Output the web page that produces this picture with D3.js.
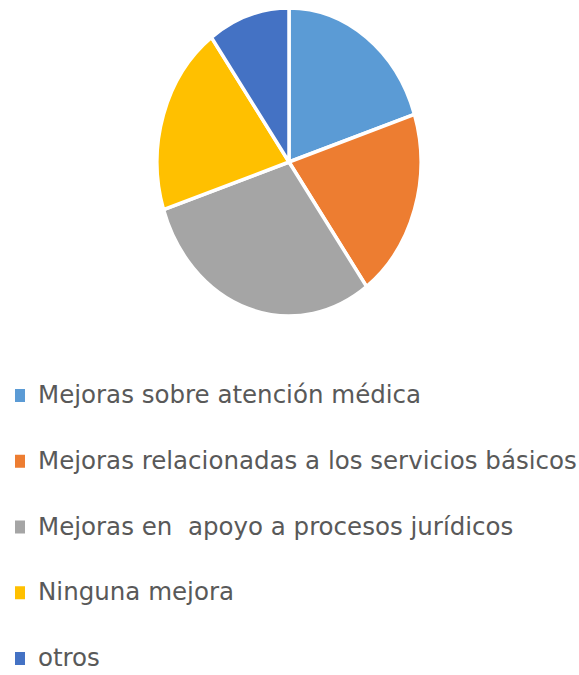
<!DOCTYPE html>
<html>
<head>
<meta charset="utf-8">
<script src="https://cdn.jsdelivr.net/npm/d3@7"></script>
<style>
  html, body { margin: 0; padding: 0; background: #fff; }
  svg { display: block; }
  .legend-label { font-family: "DejaVu Sans Condensed", "Liberation Sans", sans-serif; fill: #595959; }
</style>
</head>
<body>
<svg id="chart" width="579" height="675"></svg>
<script>
const categories = [
  'Mejoras sobre atención médica',
  'Mejoras relacionadas a los servicios básicos',
  'Mejoras en  apoyo a procesos jurídicos',
  'Ninguna mejora',
  'otros'
];
const values = [20, 20, 30, 20, 10];
const colors = ['#5B9BD5', '#ED7D31', '#A5A5A5', '#FFC000', '#4472C4'];

const svg = d3.select('#chart');
const width = 579, height = 675;

// pie is drawn stretched vertically like the original picture
const cx = 289, cy = 162, radius = 132, stretch = 154 / 132;

const data = categories.map((c, i) => ({ name: c, value: values[i] }));

const pie = d3.pie().sort(null).value(d => d.value);
const arc = d3.arc().innerRadius(0).outerRadius(radius);
const color = d3.scaleOrdinal().domain(categories).range(colors);

const g = svg.append('g')
    .attr('transform', `translate(${cx},${cy}) scale(1,${stretch})`);

g.selectAll('path')
    .data(pie(data))
    .enter()
    .append('path')
    .attr('d', arc)
    .attr('fill', d => color(d.data.name))
    .attr('stroke', '#fff')
    .attr('stroke-width', 3.5)
    .attr('vector-effect', 'non-scaling-stroke');

// legend
const legendY = d3.scalePoint()
    .domain(categories)
    .range([403, 666]);

const legend = svg.append('g');
const items = legend.selectAll('g')
    .data(categories)
    .enter()
    .append('g')
    .attr('transform', d => `translate(0,${legendY(d)})`);

items.append('rect')
    .attr('x', 15)
    .attr('y', -14)
    .attr('width', 10)
    .attr('height', 13)
    .attr('fill', d => color(d));

const labels = items.append('text')
    .attr('class', 'legend-label')
    .attr('x', 0)
    .attr('y', 0)
    .style('font-size', '21px')
    .style('white-space', 'pre')
    .text(d => d);

// widen labels so the longest one ends near the right edge, as in the picture
const longest = d3.max(labels.nodes(), n => n.getComputedTextLength());
const sx = (width - 2 - 38) / longest;
labels.attr('transform', `translate(38,0) scale(${sx},${stretch})`);
</script>
</body>
</html>
